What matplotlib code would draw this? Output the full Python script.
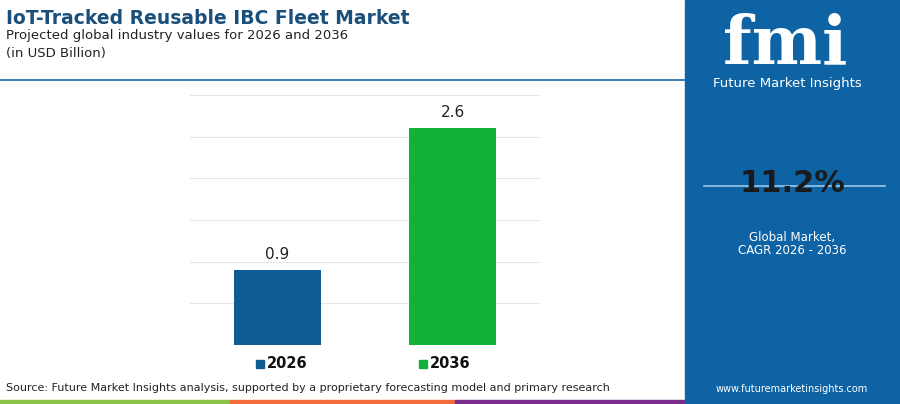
import matplotlib
matplotlib.use("Agg")
import matplotlib.pyplot as plt
from matplotlib.patches import Rectangle

years = ["2026", "2036"]
values = [0.9, 2.6]
colors = ["#0f5c94", "#13b13a"]
cagr = "11.2%"

W, H = 900, 404
fig = plt.figure(figsize=(9, 4.04), dpi=100)
fig.patch.set_facecolor("white")

def fx(x): return x / W
def fy(y): return 1 - y / H

ax = fig.add_axes([fx(190), fy(345), fx(540) - fx(190), fy(95) - fy(345)])
x = [0, 1]
ax.bar(x, values, width=0.5, color=colors, zorder=3)
ax.set_xlim(-0.5, 1.5)
ax.set_ylim(0, 3.0)
ax.set_yticks([0, 0.5, 1, 1.5, 2, 2.5, 3])
ax.yaxis.grid(True, color="#e6e6e6", lw=0.8)
ax.tick_params(left=False, bottom=False, labelleft=False, labelbottom=False)
for s in ax.spines.values():
    s.set_visible(False)
for xi, v in zip(x, values):
    ax.text(xi, v + 0.1, f"{v}", ha="center", va="bottom", fontsize=11, color="#222222")

# legend
for xc, lab, c in [(256, years[0], colors[0]), (419, years[1], colors[1])]:
    fig.patches.append(Rectangle((fx(xc), fy(368)), fx(8), 8 / H, color=c, transform=fig.transFigure))
    fig.text(fx(xc + 11), fy(363), lab, fontsize=10.5, fontweight="bold", va="center", ha="left", color="#111111")

# header
fig.text(fx(6), fy(18), "IoT-Tracked Reusable IBC Fleet Market", fontsize=13.5, fontweight="bold", color="#1a4f7c", va="center")
fig.text(fx(6), fy(36), "Projected global industry values for 2026 and 2036", fontsize=9.5, color="#222222", va="center")
fig.text(fx(6), fy(53), "(in USD Billion)", fontsize=9.5, color="#222222", va="center")
fig.add_artist(plt.Line2D([0, fx(685)], [fy(80), fy(80)], color="#1565a8", lw=1.2, transform=fig.transFigure))

fig.text(fx(6), fy(388), "Source: Future Market Insights analysis, supported by a proprietary forecasting model and primary research",
         fontsize=8, color="#222222", va="center")
for x0, x1, c in [(0, 230, "#8bc34a"), (230, 455, "#f26b3a"), (455, 685, "#7b2d8e")]:
    fig.patches.append(Rectangle((fx(x0), 0), fx(x1 - x0), 4 / H, color=c, transform=fig.transFigure))

# right panel
fig.patches.append(Rectangle((fx(685), 0), fx(215), 1, color="#0e63a5", transform=fig.transFigure))
fig.text(fx(785), fy(45), "fmi", fontsize=48, fontweight="bold", color="white", ha="center", va="center", family="DejaVu Serif")
fig.text(fx(787), fy(83), "Future Market Insights", fontsize=9.5, color="white", ha="center", va="center")
fig.add_artist(plt.Line2D([fx(704), fx(885)], [fy(186), fy(186)], color="#9cc6e6", lw=1.2, transform=fig.transFigure))
fig.text(fx(792), fy(184), cagr, fontsize=22, fontweight="bold", color="#1a1a1a", ha="center", va="center")
fig.text(fx(792), fy(238), "Global Market,", fontsize=8.5, color="white", ha="center", va="center")
fig.text(fx(792), fy(251), "CAGR 2026 - 2036", fontsize=8.5, color="white", ha="center", va="center")
fig.text(fx(792), fy(389), "www.futuremarketinsights.com", fontsize=7, color="white", ha="center", va="center")

fig.savefig("out.png", dpi=100)
